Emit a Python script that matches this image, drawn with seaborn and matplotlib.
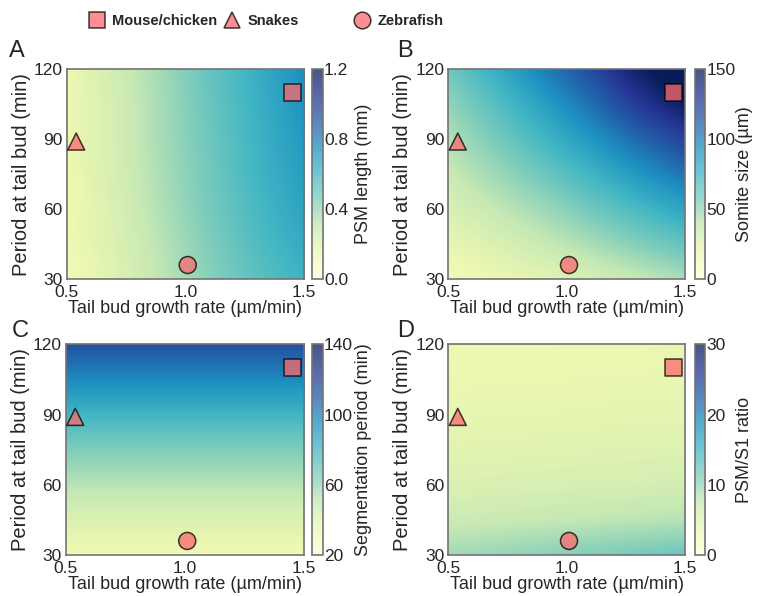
import numpy as np
import pandas as pd
import matplotlib
matplotlib.use("Agg")
import matplotlib.pyplot as plt
from matplotlib.lines import Line2D
import seaborn as sns

# Sampling grid of the parameter scan
growth_rate = [0.5, 0.7, 0.9, 1.1, 1.3, 1.5]        # tail bud growth rate (µm/min)
tail_period = [30, 45, 60, 75, 90, 105, 120]         # period at tail bud (min)

# Rows follow tail_period (bottom to top), columns follow growth_rate
psm_length = [                                       # mm
    [0.12, 0.21, 0.32, 0.43, 0.53, 0.61],
    [0.13, 0.22, 0.33, 0.45, 0.56, 0.65],
    [0.14, 0.23, 0.35, 0.47, 0.58, 0.68],
    [0.14, 0.24, 0.36, 0.48, 0.60, 0.70],
    [0.15, 0.25, 0.37, 0.49, 0.61, 0.72],
    [0.15, 0.25, 0.37, 0.50, 0.62, 0.74],
    [0.15, 0.26, 0.38, 0.51, 0.63, 0.76],
]
somite_size = [                                      # µm
    [14, 19, 24, 30, 37, 45],
    [21, 28, 36, 45, 55, 64],
    [28, 38, 48, 60, 72, 84],
    [36, 48, 61, 75, 90, 104],
    [43, 58, 74, 90, 108, 124],
    [51, 68, 86, 105, 128, 148],
    [60, 79, 99, 120, 145, 165],
]
segmentation_period = [33, 42, 53, 65, 80, 97, 114]  # min, one value per tail_period row
psm_s1_ratio = [
    [9.5, 10.0, 10.6, 11.2, 11.8, 12.4],
    [7.0, 7.2, 7.5, 7.8, 8.1, 8.4],
    [5.6, 5.7, 5.9, 6.0, 6.2, 6.4],
    [4.8, 4.9, 5.0, 5.1, 5.2, 5.3],
    [4.3, 4.4, 4.4, 4.5, 4.6, 4.6],
    [3.9, 4.0, 4.0, 4.1, 4.1, 4.2],
    [3.6, 3.7, 3.7, 3.8, 3.8, 3.9],
]

# Measured species
species = ["Mouse/chicken", "Snakes", "Zebrafish"]
species_rate = [1.45, 0.54, 1.01]
species_period = [110, 89, 36]
species_marker = {"Mouse/chicken": "s", "Snakes": "^", "Zebrafish": "o"}
species_df = pd.DataFrame({"species": species, "rate": species_rate,
                           "period": species_period})

seg_grid = np.repeat(np.array(segmentation_period, float)[:, None],
                     len(growth_rate), axis=1)

panels = [
    dict(letter="A", data=np.array(psm_length), vmin=0.0, vmax=1.2,
         ticks=[0.0, 0.4, 0.8, 1.2], label="PSM length (mm)",
         ax=[0.0881, 0.5319, 0.3135, 0.3518], cax=[0.4118, 0.5319, 0.0145, 0.3518]),
    dict(letter="B", data=np.array(somite_size, float), vmin=0, vmax=150,
         ticks=[0, 50, 100, 150], label="Somite size (µm)",
         ax=[0.5922, 0.5319, 0.3127, 0.3518], cax=[0.9175, 0.5319, 0.0140, 0.3518]),
    dict(letter="C", data=seg_grid, vmin=20, vmax=140,
         ticks=[20, 60, 100, 140], label="Segmentation period (min)",
         ax=[0.0868, 0.0688, 0.3148, 0.3535], cax=[0.4118, 0.0688, 0.0145, 0.3535]),
    dict(letter="D", data=np.array(psm_s1_ratio), vmin=0, vmax=30,
         ticks=[0, 10, 20, 30], label="PSM/S1 ratio",
         ax=[0.5922, 0.0688, 0.3127, 0.3535], cax=[0.9175, 0.0688, 0.0140, 0.3535]),
]
letter_pos = {"A": (0.012, 0.905), "B": (0.525, 0.905), "C": (0.016, 0.435), "D": (0.525, 0.435)}

sns.set_theme(style="white")
plt.rcParams["font.family"] = ["Liberation Sans", "DejaVu Sans"]
spine_color = "0.45"
marker_color = "#fb6a6f"
marker_alpha = 0.75

W, H = 757, 596
fig = plt.figure(figsize=(W / 100, H / 100), dpi=100)

dx = growth_rate[1] - growth_rate[0]
dy = tail_period[1] - tail_period[0]
extent = [growth_rate[0] - dx / 2, growth_rate[-1] + dx / 2,
          tail_period[0] - dy / 2, tail_period[-1] + dy / 2]

for p in panels:
    ax = fig.add_axes(p["ax"])
    im = ax.imshow(p["data"], origin="lower", extent=extent, aspect="auto",
                   cmap="YlGnBu", vmin=p["vmin"], vmax=p["vmax"],
                   interpolation="bilinear", zorder=1)
    sns.scatterplot(data=species_df, x="rate", y="period", style="species",
                    markers=species_marker, color=marker_color, s=150,
                    alpha=marker_alpha, edgecolor="black", linewidth=1.1,
                    legend=False, ax=ax, zorder=3)
    ax.set_xlim(0.5, 1.5)
    ax.set_ylim(30, 120)
    ax.set_xticks([0.5, 1.0, 1.5])
    ax.set_xticklabels(["0.5", "1.0", "1.5"])
    ax.set_yticks([30, 60, 90, 120])
    ax.tick_params(axis="x", length=0, labelsize=12.5, pad=4)
    ax.tick_params(axis="y", length=0, labelsize=12.5, pad=3)
    ax.set_xlabel("Tail bud growth rate (µm/min)", fontsize=13, labelpad=0)
    ax.set_ylabel("Period at tail bud (min)", fontsize=14.5, labelpad=2)
    for sp in ax.spines.values():
        sp.set_color(spine_color)
        sp.set_linewidth(1.2)

    cax = fig.add_axes(p["cax"])
    cb = fig.colorbar(im, cax=cax, ticks=p["ticks"])
    cb.solids.set_alpha(0.75)
    cb.outline.set_edgecolor(spine_color)
    cb.outline.set_linewidth(1.2)
    cax.tick_params(length=0, labelsize=12.5, pad=1)
    cb.set_label(p["label"], fontsize=13)
    cax.yaxis.set_label_coords(3.9, 0.5)

    lx, ly = letter_pos[p["letter"]]
    fig.text(lx, ly, p["letter"], fontsize=17, va="baseline", ha="left")

# Species key across the top: one entry per species at fixed positions
key_size = 10.5
key_font = dict(weight="bold", size=key_size)
key_px = key_size * 100 / 72
key_centers = [97, 232, 362]          # marker centres (px from left)
for name, cx in zip(species, key_centers):
    handle = Line2D([], [], ls="", marker=species_marker[name], markersize=12,
                    markerfacecolor=marker_color, markeredgecolor="black",
                    markeredgewidth=1.1, alpha=marker_alpha)
    left = (cx - 0.5 * key_px) / W
    fig.legend([handle], [name], loc="center left",
               bbox_to_anchor=(left, 1 - 21 / H), frameon=False,
               borderpad=0, borderaxespad=0, handlelength=1.0,
               handletextpad=0.55, prop=key_font)

fig.savefig("out.png", dpi=100)
